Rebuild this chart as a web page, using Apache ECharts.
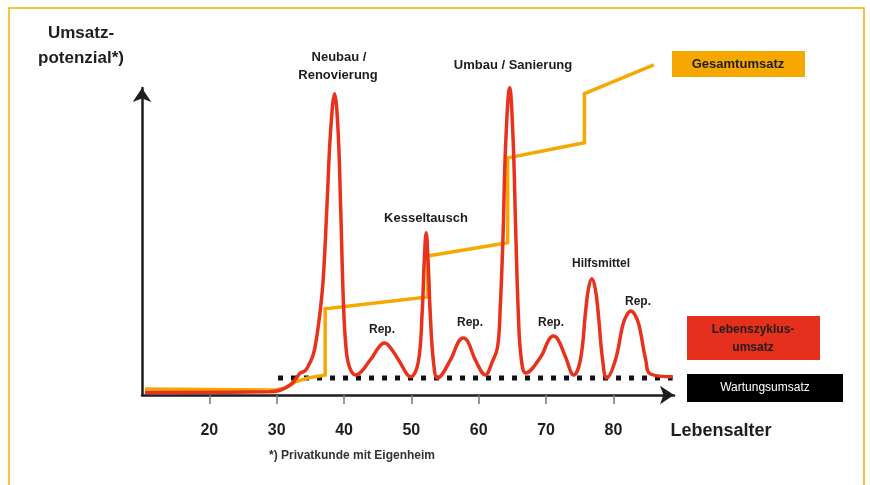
<!DOCTYPE html>
<html>
<head>
<meta charset="utf-8">
<script src="https://cdn.jsdelivr.net/npm/echarts@6/dist/echarts.min.js"></script>
<style>
html,body{margin:0;padding:0;background:#fff}
#chart{width:870px;height:485px}
</style>
</head>
<body>
<div id="chart"></div>
<script>
// Lebensalter ticks
var ageTicks = [20, 30, 40, 50, 60, 70, 80];

// Lebenszyklusumsatz (red curve)
var lifeAges   = [10.45, 29.0, 32.0, 33.5, 34.2, 34.7, 35.3, 35.7, 36.3, 36.9, 37.5, 38.0, 38.6, 39.1, 39.5, 39.9, 40.3, 40.8, 41.7,
                  43.9, 45.2, 46.0, 46.8, 48.1, 49.9,
                  51.0, 51.6, 51.9, 52.2, 52.5, 52.8, 53.3, 53.9,
                  55.8, 57.0, 57.7, 58.4, 59.5, 61.0,
                  62.0, 62.8, 63.2, 63.6, 64.0, 64.6, 65.1, 65.5, 65.9, 66.3, 67.0,
                  69.2, 70.4, 71.1, 71.8, 72.9, 74.1,
                  75.1, 75.9, 76.3, 76.8, 77.3, 77.7, 78.4, 79.0,
                  80.3, 81.4, 82.0, 82.6, 83.2, 83.8, 84.8, 85.5, 88.8];
var lifeValues = [0.8, 1.0, 3.2, 7.0, 7.7, 9.3, 12.1, 15.3, 24.0, 36.7, 62.0, 84.0, 96.2, 85.0, 60.0, 30.0, 15.0, 9.0, 6.4,
                  11.2, 15.4, 16.6, 15.4, 11.2, 5.8,
                  10.2, 26.2, 42.0, 51.8, 42.0, 26.2, 10.2, 5.4,
                  11.2, 17.0, 18.2, 17.0, 11.2, 6.4,
                  10.5, 15.3, 28.0, 50.0, 80.0, 98.1, 82.0, 52.0, 25.0, 12.0, 7.0,
                  12.1, 17.6, 18.8, 17.6, 12.1, 6.4,
                  11.2, 27.2, 34.0, 37.1, 34.0, 27.2, 11.2, 5.4,
                  11.2, 22.4, 25.6, 26.8, 25.6, 22.4, 11.2, 6.7, 5.8];

// Gesamtumsatz (orange step line)
var totalAges   = [10.45, 29.8, 31.3, 32.8, 34.5, 37.2, 37.2, 52.4, 52.4, 64.3, 64.3, 75.7, 75.7, 86.0];
var totalValues = [1.9, 1.6, 2.2, 4.2, 5.4, 6.4, 27.5, 31.3, 44.4, 48.6, 75.7, 80.5, 96.2, 105.4];

// Wartungsumsatz (dotted line)
var serviceAges   = [30.2, 88.8];
var serviceValues = [5.4, 5.4];

function zip(a, b) {
    return a.map(function (x, i) { return [x, b[i]]; });
}

var font = '"Liberation Sans", Arial, sans-serif';
var dark = '#1e1e1e';

function label(text, x, y, size, extra) {
    var style = {
        text: text, x: x, y: y,
        font: 'bold ' + (size || 13) + 'px ' + font,
        fill: dark, align: 'center', verticalAlign: 'middle'
    };
    if (extra) {
        for (var k in extra) style[k] = extra[k];
    }
    return { type: 'text', style: style, z: 20 };
}

var chart = echarts.init(document.getElementById('chart'));

chart.setOption({
    backgroundColor: '#fff',
    animation: false,
    grid: { left: 142, right: 196, top: 88, bottom: 90 },
    xAxis: {
        type: 'value',
        min: 10,
        max: 89,
        splitLine: { show: false },
        axisLine: {
            onZero: false,
            symbol: ['none', 'arrow'],
            symbolSize: [14, 14],
            lineStyle: { color: dark, width: 2.5 }
        },
        axisTick: {
            customValues: ageTicks,
            length: 9,
            lineStyle: { color: '#777', width: 1.5 }
        },
        axisLabel: {
            customValues: ageTicks,
            margin: 28,
            color: dark,
            fontSize: 16,
            fontWeight: 'bold',
            fontFamily: font
        }
    },
    yAxis: {
        type: 'value',
        min: 0,
        max: 98,
        splitLine: { show: false },
        axisTick: { show: false },
        axisLabel: { show: false },
        axisLine: {
            show: true,
            symbol: ['none', 'arrow'],
            symbolSize: [14, 14],
            lineStyle: { color: dark, width: 2.5 }
        }
    },
    series: [{
        name: 'Wartungsumsatz',
        type: 'line',
        data: zip(serviceAges, serviceValues),
        showSymbol: false,
        clip: false,
        lineStyle: { color: '#111', width: 5, type: [5, 8], cap: 'butt' },
        z: 2
    }, {
        name: 'Gesamtumsatz',
        type: 'line',
        data: zip(totalAges, totalValues),
        showSymbol: false,
        clip: false,
        lineStyle: { color: '#f6a800', width: 3.5, join: 'miter' },
        z: 3
    }, {
        name: 'Lebenszyklusumsatz',
        type: 'line',
        data: zip(lifeAges, lifeValues),
        smooth: 0.4,
        showSymbol: false,
        clip: false,
        lineStyle: { color: '#e8321e', width: 3.5 },
        z: 4
    }],
    graphic: [
        // frame
        {
            type: 'polyline',
            shape: { points: [[9, 490], [9, 8], [864, 8], [864, 490]] },
            style: { stroke: '#f5b000', lineWidth: 1.5, fill: null },
            silent: true
        },
        // axis titles
        label('Umsatz-', 81, 33, 17),
        label('potenzial*)', 81, 58, 17),
        label('Lebensalter', 721, 431, 18),
        label('*) Privatkunde mit Eigenheim', 352, 456, 12, { fill: '#333' }),
        // peak annotations
        label('Neubau /', 339, 57, 13),
        label('Renovierung', 338, 75, 13),
        label('Umbau / Sanierung', 513, 65, 13),
        label('Kesseltausch', 426, 218, 13),
        label('Hilfsmittel', 601, 264, 12),
        label('Rep.', 382, 330, 12),
        label('Rep.', 470, 323, 12),
        label('Rep.', 551, 323, 12),
        label('Rep.', 638, 302, 12),
        // legend boxes
        {
            type: 'rect',
            shape: { x: 672, y: 51, width: 133, height: 26 },
            style: { fill: '#f6a800' }
        },
        label('Gesamtumsatz', 738, 64, 13),
        {
            type: 'rect',
            shape: { x: 687, y: 316, width: 133, height: 44 },
            style: { fill: '#e4301c' }
        },
        label('Lebenszyklus-', 753, 330, 12),
        label('umsatz', 753, 348, 12),
        {
            type: 'rect',
            shape: { x: 687, y: 374, width: 156, height: 28 },
            style: { fill: '#000' }
        },
        label('Wartungsumsatz', 765, 388, 12, { fill: '#fff', font: '12px ' + font })
    ]
});
</script>
</body>
</html>
